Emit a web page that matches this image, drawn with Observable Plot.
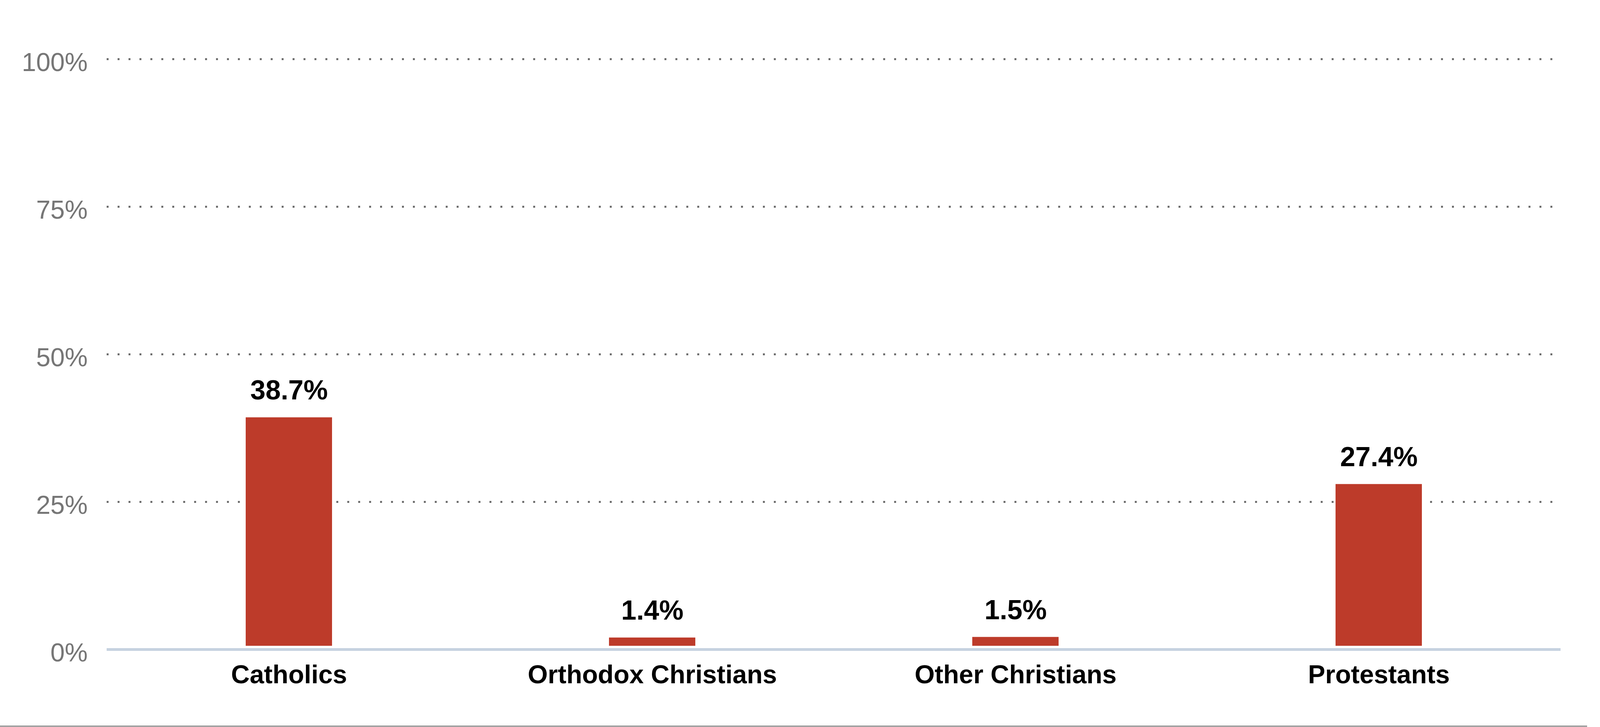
<!DOCTYPE html>
<html>
<head>
<meta charset="utf-8">
<script src="https://cdn.jsdelivr.net/npm/d3@7"></script>
<script src="https://cdn.jsdelivr.net/npm/@observablehq/plot@0.6"></script>
<style>
  html, body { margin: 0; padding: 0; background: #fff; overflow: hidden; }
  #chart svg { display: block; }
  #rule { position: absolute; left: 0; bottom: 0; width: 99.2vw; height: 4px; background: #a3a3a3; }
</style>
</head>
<body>
<div id="chart"></div>
<div id="rule"></div>
<script>
const categories = ["Catholics", "Orthodox Christians", "Other Christians", "Protestants"];
const values = [38.7, 1.4, 1.5, 27.4];
const valueLabels = ["38.7%", "1.4%", "1.5%", "27.4%"];
const yTicks = [0, 25, 50, 75, 100];
const yTickLabels = ["0%", "25%", "50%", "75%", "100%"];
const gridTicks = [25, 50, 75, 100];

const rows = categories.map((c, i) => ({category: c, value: values[i], label: valueLabels[i]}));
const font = "'Liberation Sans', Arial, Helvetica, sans-serif";

const W = window.innerWidth || 4895;
const H = (window.innerHeight || 1862) - 4;
const sx = W / 4895;   // horizontal scale relative to the 4895px reference
const sy = (H + 4) / 1862;

const chart = Plot.plot({
  width: W,
  height: H,
  marginLeft: Math.round(326 * sx),
  marginRight: Math.round(121 * sx),
  marginTop: Math.round(151 * sy),
  marginBottom: H - Math.round(1663 * sy),
  style: {fontFamily: font, background: "#fff"},
  x: {domain: categories, paddingInner: 0.7626, paddingOuter: 0.3813, axis: null},
  y: {domain: [0, 100], axis: null},
  marks: [
    Plot.ruleY(gridTicks, {stroke: "#6e6e6e", strokeWidth: 5, strokeDasharray: "5,23"}),
    Plot.ruleY([0], {stroke: "#c6d2e0", strokeWidth: 7}),
    Plot.barY(rows, {x: "category", y: "value", fill: "#bd3b2a", dy: -9}),
    Plot.text(rows, {x: "category", y: "value", text: "label", dy: -55, lineAnchor: "bottom",
      fontSize: 70, fontWeight: "bold", fill: "#000"}),
    Plot.axisY(yTicks, {tickSize: 0, tickPadding: Math.round(58 * sx), tickFormat: (d) => yTickLabels[yTicks.indexOf(d)],
      fontSize: 66, fill: "#767676", color: "#767676", dy: 9, label: null}),
    Plot.axisX(categories, {tickSize: 0, tickPadding: 40, fontSize: 66, fontWeight: "bold",
      fill: "#000", color: "#000", label: null})
  ]
});
document.getElementById("chart").appendChild(chart);
</script>
</body>
</html>
